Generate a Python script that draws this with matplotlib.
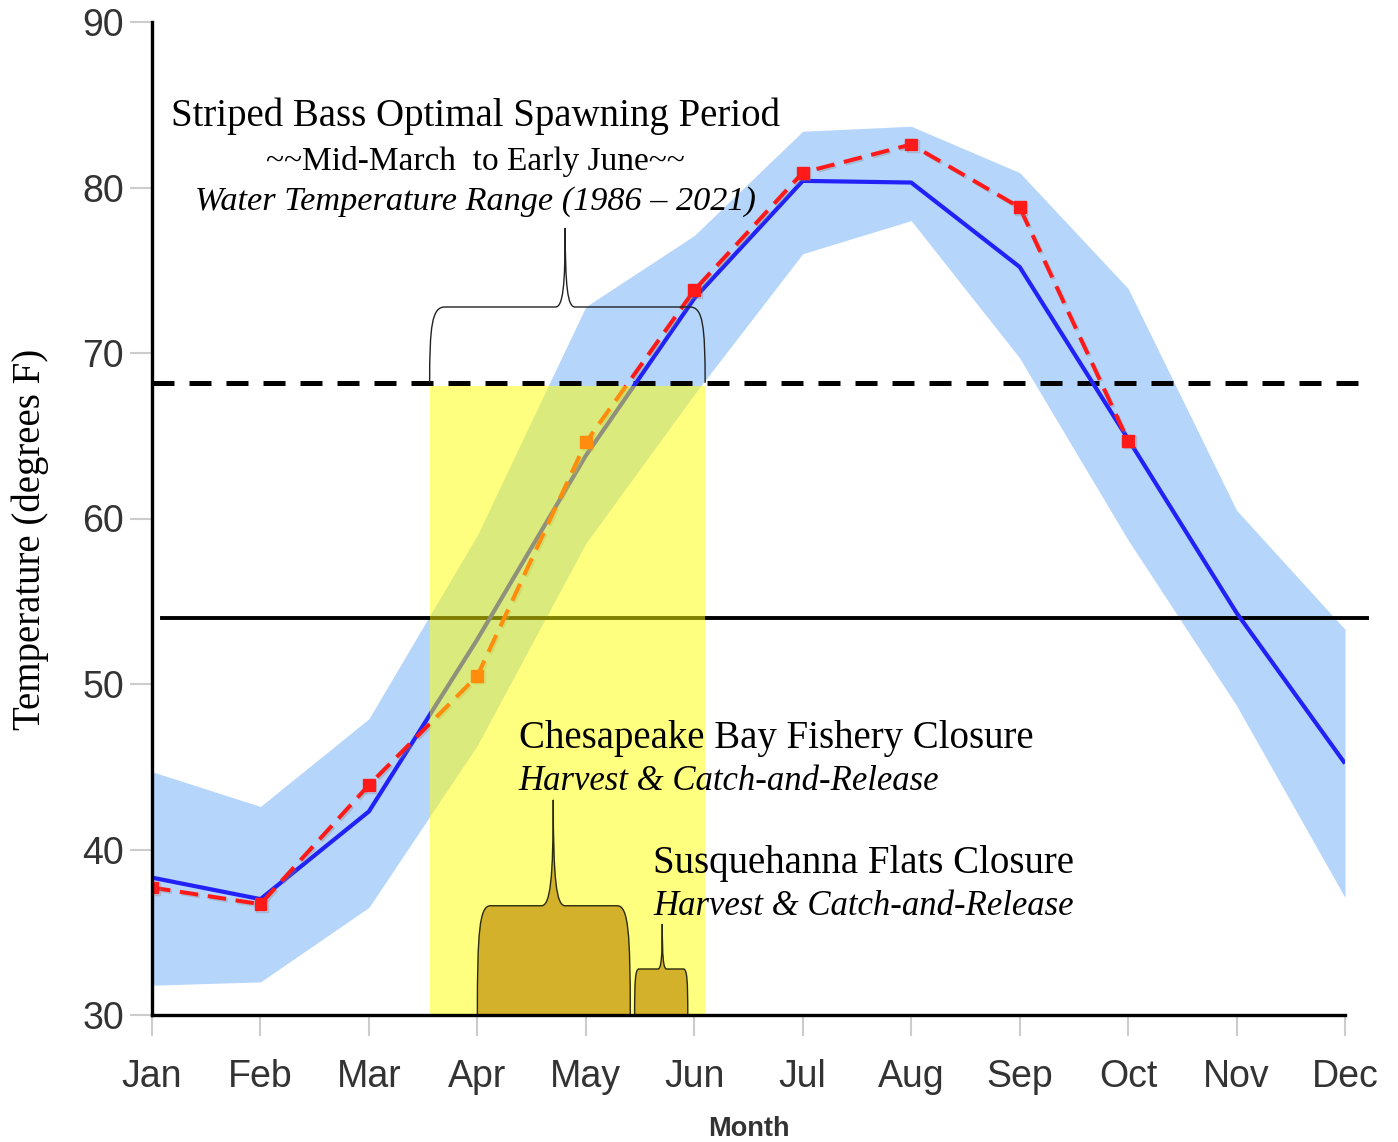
import numpy as np
import matplotlib
matplotlib.use("Agg")
import matplotlib.pyplot as plt
from matplotlib.path import Path
from matplotlib.patches import PathPatch, Rectangle
import matplotlib.patheffects as pe

# ---------------- data ----------------
months = ["Jan", "Feb", "Mar", "Apr", "May", "Jun", "Jul", "Aug", "Sep", "Oct", "Nov", "Dec"]
range_upper = [44.7, 42.6, 47.9, 59.0, 72.8, 77.1, 83.4, 83.7, 80.9, 73.9, 60.5, 53.3]
range_lower = [31.8, 32.0, 36.5, 46.3, 58.5, 67.5, 76.0, 78.0, 69.7, 58.7, 48.7, 37.1]
mean_temp = [38.3, 37.0, 42.3, 52.7, 63.8, 73.3, 80.4, 80.3, 75.2, 64.8, 54.3, 45.2]
current_temp = [37.7, 36.7, 43.9, 50.5, 64.6, 73.8, 80.9, 82.6, 78.8, 64.7]
upper_threshold = 68.2
lower_threshold = 54.0
spawn_start, spawn_end = 2.56, 5.10          # mid-March to early June (month index)
spawn_top = 68.0
chesapeake_closure = (3.0, 4.41)
susquehanna_closure = (4.45, 4.94)

serif = ["Liberation Serif", "DejaVu Serif"]
sans = ["Liberation Sans", "DejaVu Sans"]

fig = plt.figure(figsize=(13.98, 11.42), dpi=100)
ax = fig.add_axes([152 / 1398, 1 - 1015 / 1142, (1345 - 152) / 1398, (1015 - 22) / 1142])

x = np.arange(len(months))
ax.fill_between(x, range_lower, range_upper, color="#B5D5FB", lw=0, zorder=1)
ax.plot(x, mean_temp, color="#2121F8", lw=3.0, zorder=3, solid_capstyle="butt")
ax.plot(np.arange(len(current_temp)), current_temp, color="#FF1A1A", lw=2.9,
        dashes=(4.6, 2.4), marker="s", ms=8.5, mec="#FF1A1A", mfc="#FF1A1A", zorder=3,
        path_effects=[pe.SimpleLineShadow(offset=(1.2, -1.2), shadow_color="#888888", alpha=0.35),
                      pe.Normal()])

ax.plot([0.0, 11.2], [upper_threshold] * 2, color="black", lw=3.6, dashes=(4.4, 3.0),
        zorder=2.5, clip_on=False)
ax.plot([0.09, 11.2], [lower_threshold] * 2, color="black", lw=2.8, zorder=2.5,
        clip_on=False)

# spawning window overlay
ax.add_patch(Rectangle((spawn_start, 30), spawn_end - spawn_start, spawn_top - 30,
                       facecolor="#FFFF00", alpha=0.5, lw=0, zorder=4))


def brace(x0, x1, yb, yt, xp, yp, cw, pw, closed=False):
    h = yt - yb
    dp = yp - yt
    verts = [(x0, yb),
             (x0, yb + 0.75 * h), (x0 + 0.15 * cw, yt), (x0 + cw, yt),
             (xp - pw, yt),
             (xp - 0.25 * pw, yt), (xp, yt + 0.25 * dp), (xp, yp),
             (xp, yt + 0.25 * dp), (xp + 0.25 * pw, yt), (xp + pw, yt),
             (x1 - cw, yt),
             (x1 - 0.15 * cw, yt), (x1, yb + 0.75 * h), (x1, yb)]
    codes = [Path.MOVETO, Path.CURVE4, Path.CURVE4, Path.CURVE4, Path.LINETO,
             Path.CURVE4, Path.CURVE4, Path.CURVE4, Path.CURVE4, Path.CURVE4, Path.CURVE4,
             Path.LINETO, Path.CURVE4, Path.CURVE4, Path.CURVE4]
    if closed:
        verts.append((x0, yb))
        codes.append(Path.CLOSEPOLY)
    return Path(verts, codes)


ax.add_patch(PathPatch(brace(spawn_start, spawn_end, upper_threshold, 72.78, 3.81, 77.55,
                             0.14, 0.09), facecolor="none", edgecolor="#222222", lw=1.0,
                       zorder=5, clip_on=False))
ax.add_patch(PathPatch(brace(chesapeake_closure[0], chesapeake_closure[1], 30, 36.6, 3.70, 43.0,
                             0.12, 0.11, closed=True), facecolor="#D3B12B",
                       edgecolor="#2a2a10", lw=1.0, zorder=5))
ax.add_patch(PathPatch(brace(susquehanna_closure[0], susquehanna_closure[1], 30, 32.78, 4.705, 35.5,
                             0.04, 0.04, closed=True), facecolor="#D3B12B",
                       edgecolor="#2a2a10", lw=1.0, zorder=5))

# texts
ax.text(2.98, 84.3, "Striped Bass Optimal Spawning Period", family=serif, fontsize=28,
        ha="center", va="center", zorder=6)
ax.text(2.98, 81.6, "~~Mid-March  to Early June~~", family=serif, fontsize=24,
        ha="center", va="center", zorder=6)
ax.text(2.98, 79.15, "Water Temperature Range (1986 \u2013 2021)", family=serif, fontsize=24.7,
        style="italic", ha="center", va="center", zorder=6)
ax.text(3.38, 46.7, "Chesapeake Bay Fishery Closure", family=serif, fontsize=28,
        ha="left", va="center", zorder=6)
ax.text(3.38, 44.1, "Harvest & Catch-and-Release", family=serif, fontsize=25,
        style="italic", ha="left", va="center", zorder=6)
ax.text(4.62, 39.15, "Susquehanna Flats Closure", family=serif, fontsize=28,
        ha="left", va="center", zorder=6)
ax.text(4.62, 36.55, "Harvest & Catch-and-Release", family=serif, fontsize=25,
        style="italic", ha="left", va="center", zorder=6)

ax.set_xlim(0, 11)
ax.set_ylim(30, 90)
ax.set_xticks(x)
ax.set_xticklabels(months)
ax.set_yticks(np.arange(30, 91, 10))
for lab in ax.get_xticklabels() + ax.get_yticklabels():
    lab.set_family(sans)
    lab.set_fontsize(27)
    lab.set_color("#333333")
ax.tick_params(axis="x", length=15, width=1.5, color="#CCCCCC", pad=17)
ax.tick_params(axis="y", length=16, width=1.5, color="#CCCCCC", pad=4)

for s in ["top", "right"]:
    ax.spines[s].set_visible(False)
for s in ["left", "bottom"]:
    ax.spines[s].set_linewidth(2.4)
    ax.spines[s].set_color("black")
    ax.spines[s].set_zorder(7)

fig.text(30 / 1398, 1 - 539 / 1142, "Temperature (degrees F)", family=serif, fontsize=28,
         rotation=90, ha="center", va="center")
fig.text(749 / 1398, 1 - 1116 / 1142, "Month", family=sans, fontsize=19.5, fontweight="bold",
         color="#333333", ha="center", va="top")

fig.savefig("out.png", dpi=100)
